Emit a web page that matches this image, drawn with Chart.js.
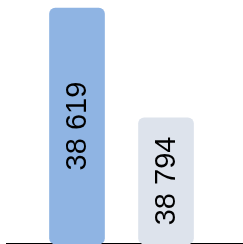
<!DOCTYPE html>
<html>
<head>
<meta charset="utf-8">
<script src="https://cdn.jsdelivr.net/npm/chart.js@4"></script>
<style>
  html, body { margin: 0; padding: 0; background: #fff; }
  #wrap { width: 243px; height: 244px; }
</style>
</head>
<body>
<div id="wrap"><canvas id="myChart" width="243" height="244"></canvas></div>
<script>
const categories = ['A', 'B'];
const barHeights = [96.7, 51.7];
const valueLabels = ['38 619', '38 794'];
const barColors = ['#8fb4e3', '#dde3ec'];

// draws the rotated value text in the middle of each bar
const barText = {
    id: 'barText',
    afterDatasetsDraw(chart) {
        const ctx = chart.ctx;
        const meta = chart.getDatasetMeta(0);
        ctx.save();
        ctx.font = "29px 'Liberation Sans', Arial, sans-serif";
        ctx.fillStyle = '#000';
        ctx.textAlign = 'center';
        ctx.textBaseline = 'alphabetic';
        meta.data.forEach(function(bar, i) {
            const cy = (bar.y + bar.base) / 2;
            ctx.save();
            ctx.translate(bar.x + 9, cy);
            ctx.rotate(-Math.PI / 2);
            ctx.fillText(valueLabels[i], 0, 0);
            ctx.restore();
        });
        ctx.restore();
    }
};

const points = categories.map(function(c, i) {
    return { x: i + 1, y: barHeights[i] };
});

const ctx = document.getElementById('myChart').getContext('2d');
window.myChart = new Chart(ctx, {
    type: 'bar',
    data: {
        datasets: [{
            data: points,
            backgroundColor: barColors,
            borderRadius: 6,
            borderSkipped: false,
            barThickness: 55
        }]
    },
    options: {
        responsive: false,
        animation: false,
        layout: { padding: { left: 7, right: 0, top: 0, bottom: 0 } },
        plugins: { legend: { display: false }, tooltip: { enabled: false } },
        scales: {
            x: {
                type: 'linear',
                offset: false,
                min: 0.2135,
                max: 2.865,
                grid: { display: false, drawTicks: false },
                ticks: { display: false, padding: 0 },
                border: { display: true, color: '#000', width: 2 }
            },
            y: {
                min: 0,
                max: 100,
                display: false
            }
        }
    },
    plugins: [barText]
});
</script>
</body>
</html>
